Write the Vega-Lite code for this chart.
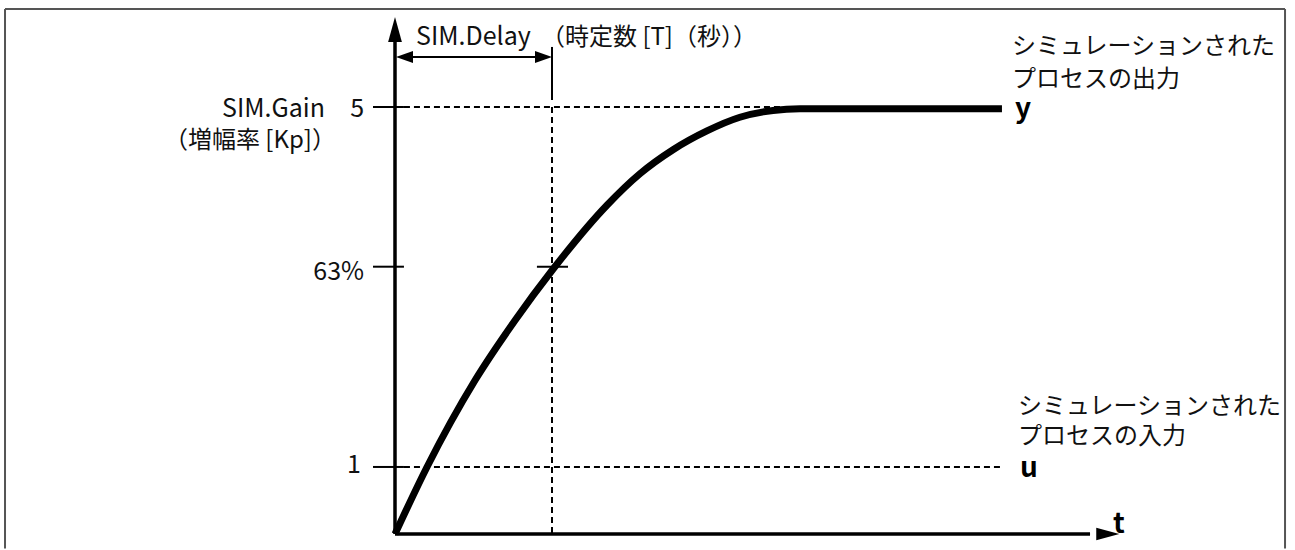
{
  "$schema": "https://vega.github.io/schema/vega-lite/v6.json",
  "autosize": {"type": "fit", "contains": "padding"},
  "width": 1295,
  "height": 550,
  "padding": 0,
  "background": "white",
  "config": {"view": {"stroke": null}, "text": {"font": "Noto Sans CJK JP"}},
  "datasets": {
    "frame": [
      {"t": -2.484, "v": 6.148, "t2": 5.669, "v2": 6.148},
      {"t": -2.484, "v": 6.148, "t2": -2.484, "v2": -0.17},
      {"t": 5.669, "v": 6.148, "t2": 5.669, "v2": -0.17}
    ],
    "dashed": [
      {"name": "gain", "t": 0.057, "v": 5, "t2": 2.48, "v2": 5},
      {"name": "input", "t": 0.057, "v": 0.785, "t2": 3.854, "v2": 0.785},
      {"name": "delay", "t": 1.0, "v": 5, "t2": 1.0, "v2": 0}
    ],
    "axes": [
      {"name": "yaxis", "t": 0, "v": 0, "t2": 0, "v2": 5.785},
      {"name": "xaxis", "t": 0, "v": 0, "t2": 4.427, "v2": 0}
    ],
    "thin": [
      {"name": "tick5", "t": -0.14, "v": 5, "t2": 0.057, "v2": 5},
      {"name": "tick63", "t": -0.14, "v": 3.13, "t2": 0.057, "v2": 3.13},
      {"name": "tick1", "t": -0.14, "v": 0.785, "t2": 0.057, "v2": 0.785},
      {"name": "tick63curve", "t": 0.904, "v": 3.13, "t2": 1.102, "v2": 3.13},
      {"name": "dimension", "t": 0.06, "v": 5.585, "t2": 0.95, "v2": 5.585},
      {"name": "delaymark", "t": 1.0, "v": 5.703, "t2": 1.0, "v2": 5.082}
    ],
    "curve": [
      {"t": 0, "v": 0},
      {"t": 0.204, "v": 0.785},
      {"t": 0.51, "v": 1.8},
      {"t": 0.764, "v": 2.5},
      {"t": 1.006, "v": 3.1},
      {"t": 1.35, "v": 3.85},
      {"t": 1.561, "v": 4.22},
      {"t": 1.771, "v": 4.5},
      {"t": 1.987, "v": 4.72},
      {"t": 2.197, "v": 4.88},
      {"t": 2.408, "v": 4.96},
      {"t": 2.58, "v": 4.98},
      {"t": 3.866, "v": 4.98}
    ],
    "arrowUp": [{"t": 0, "v": 5.907}],
    "arrowRight": [{"t": 4.54, "v": 0}],
    "dimLeft": [{"t": 0.0605, "v": 5.585}],
    "dimRight": [{"t": 0.946, "v": 5.585}],
    "labelsRightLatin": [
      {"label": "SIM.Gain", "t": -0.446, "v": 4.883},
      {"label": "5", "t": -0.197, "v": 4.883},
      {"label": "63%", "t": -0.197, "v": 2.974},
      {"label": "1", "t": -0.217, "v": 0.714}
    ],
    "labelsRight": [
      {"label": "（増幅率 [Kp]）", "t": -0.376, "v": 4.52}
    ],
    "labelsLeftLatin": [
      {"label": "SIM.Delay", "t": 0.134, "v": 5.726}
    ],
    "labelsLeft": [
      {"label": "（時定数 [T]（秒））", "t": 0.93, "v": 5.726},
      {"label": "シミュレーションされた", "t": 3.93, "v": 5.62},
      {"label": "プロセスの出力", "t": 3.93, "v": 5.234},
      {"label": "シミュレーションされた", "t": 3.968, "v": 1.405},
      {"label": "プロセスの入力", "t": 3.968, "v": 1.054}
    ],
    "labelsBold": [
      {"label": "y", "t": 3.949, "v": 4.871},
      {"label": "u", "t": 3.981, "v": 0.667},
      {"label": "t", "t": 4.573, "v": 0.0117}
    ]
  },
  "encoding": {
    "x": {"field": "t", "type": "quantitative", "axis": null, "scale": {"domain": [-2.5159, 5.7325], "nice": false, "zero": false}},
    "y": {"field": "v", "type": "quantitative", "axis": null, "scale": {"domain": [-0.18735, 6.2529], "nice": false, "zero": false}}
  },
  "layer": [
    {
      "data": {"name": "frame"},
      "mark": {"type": "rule", "stroke": "#555555", "strokeWidth": 2},
      "encoding": {"x2": {"field": "t2"}, "y2": {"field": "v2"}}
    },
    {
      "data": {"name": "dashed"},
      "mark": {"type": "rule", "stroke": "black", "strokeWidth": 2, "strokeDash": [6, 4]},
      "encoding": {"x2": {"field": "t2"}, "y2": {"field": "v2"}}
    },
    {
      "data": {"name": "thin"},
      "mark": {"type": "rule", "stroke": "black", "strokeWidth": 2},
      "encoding": {"x2": {"field": "t2"}, "y2": {"field": "v2"}}
    },
    {
      "data": {"name": "axes"},
      "mark": {"type": "rule", "stroke": "black", "strokeWidth": 3.5},
      "encoding": {"x2": {"field": "t2"}, "y2": {"field": "v2"}}
    },
    {
      "data": {"name": "arrowUp"},
      "mark": {"type": "point", "shape": "M0,-1L0.55,1L-0.55,1Z", "size": 625, "filled": true, "color": "black", "opacity": 1}
    },
    {
      "data": {"name": "arrowRight"},
      "mark": {"type": "point", "shape": "M1,0L-1,0.55L-1,-0.55Z", "size": 529, "filled": true, "color": "black", "opacity": 1}
    },
    {
      "data": {"name": "dimLeft"},
      "mark": {"type": "point", "shape": "M-1,0L1,0.7L1,-0.7Z", "size": 289, "filled": true, "color": "black", "opacity": 1}
    },
    {
      "data": {"name": "dimRight"},
      "mark": {"type": "point", "shape": "M1,0L-1,0.7L-1,-0.7Z", "size": 289, "filled": true, "color": "black", "opacity": 1}
    },
    {
      "data": {"name": "curve"},
      "mark": {"type": "line", "stroke": "black", "strokeWidth": 7, "interpolate": "monotone", "strokeCap": "butt"},
      "encoding": {"order": {"field": "t", "type": "quantitative"}}
    },
    {
      "data": {"name": "labelsRightLatin"},
      "mark": {"type": "text", "align": "right", "baseline": "alphabetic", "fontSize": 25, "color": "#111111"},
      "encoding": {"text": {"field": "label"}}
    },
    {
      "data": {"name": "labelsRight"},
      "mark": {"type": "text", "align": "right", "baseline": "alphabetic", "fontSize": 24, "color": "#111111"},
      "encoding": {"text": {"field": "label"}}
    },
    {
      "data": {"name": "labelsLeftLatin"},
      "mark": {"type": "text", "align": "left", "baseline": "alphabetic", "fontSize": 25, "color": "#111111"},
      "encoding": {"text": {"field": "label"}}
    },
    {
      "data": {"name": "labelsLeft"},
      "mark": {"type": "text", "align": "left", "baseline": "alphabetic", "fontSize": 24, "color": "#111111"},
      "encoding": {"text": {"field": "label"}}
    },
    {
      "data": {"name": "labelsBold"},
      "mark": {"type": "text", "align": "left", "baseline": "alphabetic", "fontSize": 28, "fontWeight": "bold", "color": "black"},
      "encoding": {"text": {"field": "label"}}
    }
  ]
}
